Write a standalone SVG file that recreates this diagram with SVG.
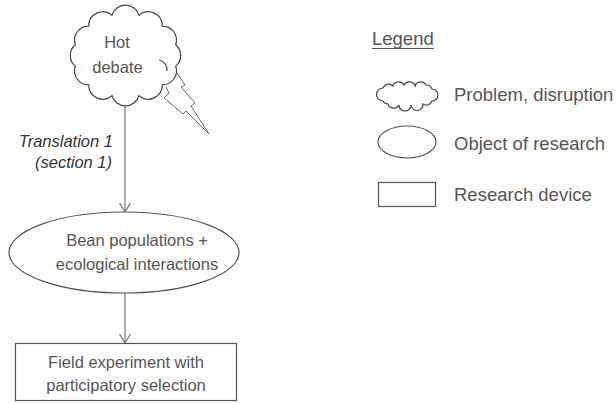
<svg xmlns="http://www.w3.org/2000/svg" width="616" height="403" viewBox="0 0 616 403">
<style>
.txt{font-family:"Liberation Sans",Arial,sans-serif;font-size:16.5px;fill:#555;}
.it{font-family:"Liberation Sans",Arial,sans-serif;font-size:16.5px;font-style:italic;fill:#333;}
.lg{font-family:"Liberation Sans",Arial,sans-serif;font-size:18.5px;fill:#555;}
.shape{fill:#fff;stroke:#555;stroke-width:1.2;}
.cloud{fill:#fff;stroke:#444;stroke-width:1.2;}
.conn{fill:none;stroke:#808080;stroke-width:1.3;}
</style>
<defs>
<marker id="arr" viewBox="0 0 10 12" refX="9" refY="6" markerWidth="10" markerHeight="12" markerUnits="userSpaceOnUse" orient="auto">
<path d="M0,0.5 L9,6 L0,11.5" fill="none" stroke="#707070" stroke-width="1.2"/>
</marker>
</defs>
<rect width="616" height="403" fill="#fff"/>
<g id="connectors">
<line class="conn" x1="125" y1="106" x2="125" y2="212" marker-end="url(#arr)"/>
<line class="conn" x1="125" y1="293" x2="125" y2="343" marker-end="url(#arr)"/>
<text class="it" x="113" y="147" text-anchor="end">Translation 1</text>
<text class="it" x="112" y="168" text-anchor="end">(section 1)</text>
</g>
<g id="hot-debate">
<path class="cloud" d="M175.7,66.2 A14,14 0 0 1 162.3,84.8 A14,14 0 0 1 139,95.6 A14,14 0 0 1 112,95.6 A14,14 0 0 1 88.7,84.8 A14,14 0 0 1 75.3,66.2 A14,14 0 0 1 75.3,44.8 A14,14 0 0 1 88.7,26.2 A14,14 0 0 1 112,15.4 A14,14 0 0 1 139,15.4 A14,14 0 0 1 162.3,26.2 A14,14 0 0 1 175.7,44.8 A14,14 0 0 1 175.7,66.2 Z"/>
<path d="M159,60 A10,10 0 0 1 167,71" fill="none" stroke="#444" stroke-width="1.2"/>
<polyline points="177,73 185,85 181,87 195,103 191,106 209,134 186,111 183,114 164,98 169,93 166,87" fill="none" stroke="#666" stroke-width="1"/>
<text class="txt" x="117" y="48" text-anchor="middle">Hot</text>
<text class="txt" x="117.5" y="73" text-anchor="middle">debate</text>
</g>
<g id="bean-populations">
<ellipse class="shape" cx="124" cy="252.5" rx="115" ry="40.5" stroke="#666"/>
<text class="txt" x="137" y="246" text-anchor="middle">Bean populations +</text>
<text class="txt" x="137" y="270" text-anchor="middle">ecological interactions</text>
</g>
<g id="field-experiment">
<rect class="shape" x="15.5" y="343.5" width="221" height="57"/>
<text class="txt" x="126" y="368" text-anchor="middle">Field experiment with</text>
<text class="txt" x="126" y="391" text-anchor="middle">participatory selection</text>
</g>
<g id="legend">
<text class="lg" x="372" y="45">Legend</text>
<line x1="372" y1="48.5" x2="434" y2="48.5" stroke="#555" stroke-width="1"/>
<path class="cloud" d="M383,88 A6,6 0 0 1 393,86 A6,6 0 0 1 404,85 A6,6 0 0 1 415,86 A6,6 0 0 1 426,85 A6,6 0 0 1 432,89 A6,6 0 0 1 432,101 A6,6 0 0 1 423,104 A6,6 0 0 1 411,105 A6,6 0 0 1 399,105 A6,6 0 0 1 388,104 A6,6 0 0 1 383,101 A6,6 0 0 1 383,88 Z"/>
<text class="lg" x="454" y="101">Problem, disruption</text>
<ellipse class="shape" cx="407" cy="142" rx="29" ry="16" stroke="#666"/>
<text class="lg" x="454" y="150">Object of research</text>
<rect class="shape" x="378.5" y="182.5" width="57" height="24"/>
<text class="lg" x="454" y="201">Research device</text>
</g>
</svg>
